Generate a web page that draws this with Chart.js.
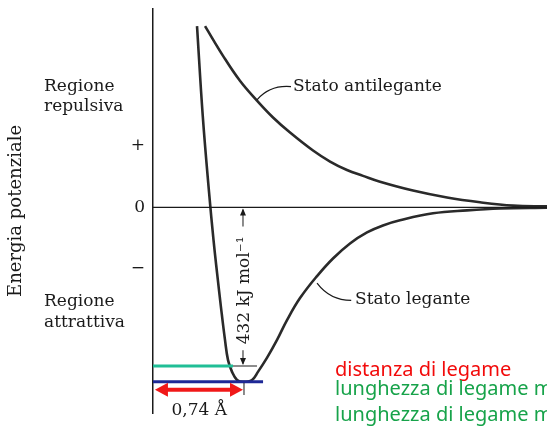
<!DOCTYPE html>
<html>
<head>
<meta charset="utf-8">
<script src="https://cdn.jsdelivr.net/npm/chart.js@4.4.0/dist/chart.umd.min.js"></script>
<style>
  body { margin: 0; background: #fff; }
  canvas { display: block; }
</style>
</head>
<body>
<canvas id="chart" width="547" height="427"></canvas>
<script>
// distanza internucleare (Å) ed energia (kJ/mol)
var bondR = [0.362, 0.409, 0.461, 0.498, 0.527, 0.559, 0.592, 0.617, 0.650, 0.691, 0.740, 0.814, 0.863, 0.937, 1.020, 1.102, 1.209, 1.349, 1.480, 1.620, 1.760, 1.891, 2.031, 2.303, 2.582, 2.854, 3.240];
var bondE = [494, 250, 41, -90, -179, -272, -361, -416, -448, -470, -475, -470, -448, -410, -361, -307, -247, -187, -139, -98, -68, -49, -35, -16, -8, -3, -1];

var antiR = [0.428, 0.576, 0.715, 0.855, 0.987, 1.127, 1.316, 1.456, 1.595, 1.727, 1.867, 2.138, 2.418, 2.689, 2.961, 3.240];
var antiE = [494, 413, 345, 291, 245, 204, 155, 125, 102, 86, 70, 46, 27, 14, 5, 3];

var tickValues = [-166, 0, 168];
var tickLabels = ['\u2212', '0', '+'];

var bondLength = 0.74;     // Å
var bondEnergy = 432;      // kJ/mol
var wellDepth = -475;
var rMax = 3.24;

function points(xs, ys) {
    return xs.map(function (v, i) { return {x: v, y: ys[i]}; });
}

var serif = '"DejaVu Serif", serif';

var notes = {
    id: 'notes',
    afterDraw: function (chart) {
        var ctx = chart.ctx;
        var sx = chart.scales.x, sy = chart.scales.y;
        var px = function (v) { return sx.getPixelForValue(v); };
        var py = function (v) { return sy.getPixelForValue(v); };

        function head(x, y, ang, len, half) {
            ctx.beginPath();
            ctx.moveTo(x, y);
            ctx.lineTo(x - len * Math.cos(ang) + half * Math.sin(ang), y - len * Math.sin(ang) - half * Math.cos(ang));
            ctx.lineTo(x - len * Math.cos(ang) - half * Math.sin(ang), y - len * Math.sin(ang) + half * Math.cos(ang));
            ctx.closePath();
            ctx.fill();
        }

        ctx.save();
        ctx.fillStyle = '#1a1a1a';
        ctx.font = '17px ' + serif;
        ctx.textBaseline = 'alphabetic';
        ctx.textAlign = 'left';
        ctx.fillText('Regione', px(-0.896), py(318));
        ctx.fillText('repulsiva', px(-0.896), py(264));
        ctx.fillText('Regione', px(-0.896), py(-268));
        ctx.fillText('attrattiva', px(-0.896), py(-325));
        ctx.fillText('Stato antilegante', px(1.151), py(318));
        ctx.fillText('Stato legante', px(1.661), py(-264));

        // linee di richiamo
        ctx.strokeStyle = '#1a1a1a';
        ctx.lineWidth = 1.2;
        ctx.beginPath();
        ctx.moveTo(px(0.855), py(293));
        ctx.quadraticCurveTo(px(0.962), py(334), px(1.135), py(329));
        ctx.stroke();
        ctx.beginPath();
        ctx.moveTo(px(1.349), py(-206));
        ctx.quadraticCurveTo(px(1.456), py(-253), px(1.630), py(-253));
        ctx.stroke();

        // freccia dell'energia di legame
        var ax = px(bondLength);
        ctx.lineWidth = 1;
        ctx.beginPath();
        ctx.moveTo(ax, py(-6));
        ctx.lineTo(ax, py(-52));
        ctx.moveTo(ax, py(-389));
        ctx.lineTo(ax, py(-bondEnergy + 6));
        ctx.moveTo(px(0.658), py(-bondEnergy));
        ctx.lineTo(px(0.855), py(-bondEnergy));
        ctx.stroke();
        head(ax, py(0) + 1, -Math.PI / 2, 7, 3);
        head(ax, py(-bondEnergy) - 1, Math.PI / 2, 7, 3);

        ctx.save();
        ctx.translate(px(0.757), py(-226));
        ctx.rotate(-Math.PI / 2);
        ctx.textAlign = 'center';
        ctx.textBaseline = 'middle';
        ctx.fillText(bondEnergy + ' kJ mol\u207B\u00B9', 0, 0);
        ctx.restore();

        // distanza di legame
        var ry = py(-497);
        var x0 = px(0.016), x1 = px(bondLength);
        ctx.strokeStyle = '#f01818';
        ctx.fillStyle = '#f01818';
        ctx.lineWidth = 4;
        ctx.beginPath();
        ctx.moveTo(x0 + 10, ry);
        ctx.lineTo(x1 - 10, ry);
        ctx.stroke();
        head(x0, ry, Math.PI, 13, 7);
        head(x1, ry, 0, 13, 7);

        ctx.strokeStyle = '#1a1a1a';
        ctx.lineWidth = 1;
        ctx.beginPath();
        ctx.moveTo(x1 + 1, py(-478));
        ctx.lineTo(x1 + 1, py(-511));
        ctx.stroke();

        ctx.fillStyle = '#1a1a1a';
        ctx.textAlign = 'center';
        ctx.fillText('0,74 \u00C5', px(0.38), py(-565));

        // note colorate
        ctx.textAlign = 'left';
        ctx.font = '20px "Noto Sans", sans-serif';
        ctx.fillStyle = '#f20a0a';
        ctx.fillText('distanza di legame', px(1.497), py(-459));
        ctx.fillStyle = '#17a34a';
        ctx.fillText('lunghezza di legame m', px(1.497), py(-511));
        ctx.fillText('lunghezza di legame m', px(1.497), py(-582));
        ctx.restore();
    }
};

var ctx = document.getElementById('chart');

var chartGraph = new Chart(ctx, {
    type: 'line',
    data: {
        datasets: [{
                label: 'zero',
                data: points([0, rMax], [0, 0]),
                borderColor: '#1a1a1a',
                borderWidth: 1.2,
                pointRadius: 0
            },
            {
                label: 'livello fondamentale',
                data: points([0, 0.658], [-bondEnergy, -bondEnergy]),
                borderColor: 'rgb(32, 190, 150)',
                borderWidth: 3,
                pointRadius: 0
            },
            {
                label: 'minimo',
                data: points([0, 0.905], [wellDepth, wellDepth]),
                borderColor: 'rgb(30, 40, 150)',
                borderWidth: 3,
                pointRadius: 0
            },
            {
                label: 'Stato legante',
                data: points(bondR, bondE),
                borderColor: '#2a2a2a',
                borderWidth: 2.6,
                pointRadius: 0,
                tension: 0.4
            },
            {
                label: 'Stato antilegante',
                data: points(antiR, antiE),
                borderColor: '#2a2a2a',
                borderWidth: 2.6,
                pointRadius: 0,
                tension: 0.4
            }
        ]
    },
    options: {
        responsive: false,
        animation: false,
        devicePixelRatio: 1,
        layout: {
            padding: {left: 0, right: 0, top: 8, bottom: 14}
        },
        plugins: {
            legend: {display: false},
            tooltip: {enabled: false}
        },
        scales: {
            x: {
                type: 'linear',
                display: false,
                min: 0,
                max: rMax
            },
            y: {
                min: -560,
                max: 541,
                afterFit: function (scale) { scale.width = 153; },
                afterBuildTicks: function (scale) {
                    scale.ticks = tickValues.map(function (v) { return {value: v}; });
                },
                ticks: {
                    padding: 8,
                    color: '#1a1a1a',
                    font: {family: serif, size: 17, lineHeight: 0.1},
                    callback: function (value, index) { return tickLabels[index]; }
                },
                grid: {display: false, drawTicks: false},
                border: {display: true, color: '#1a1a1a', width: 1.5},
                title: {
                    display: true,
                    text: 'Energia potenziale',
                    color: '#1a1a1a',
                    font: {family: serif, size: 18},
                    padding: {top: 6}
                }
            }
        }
    },
    plugins: [notes]
})
</script>
</body>
</html>
